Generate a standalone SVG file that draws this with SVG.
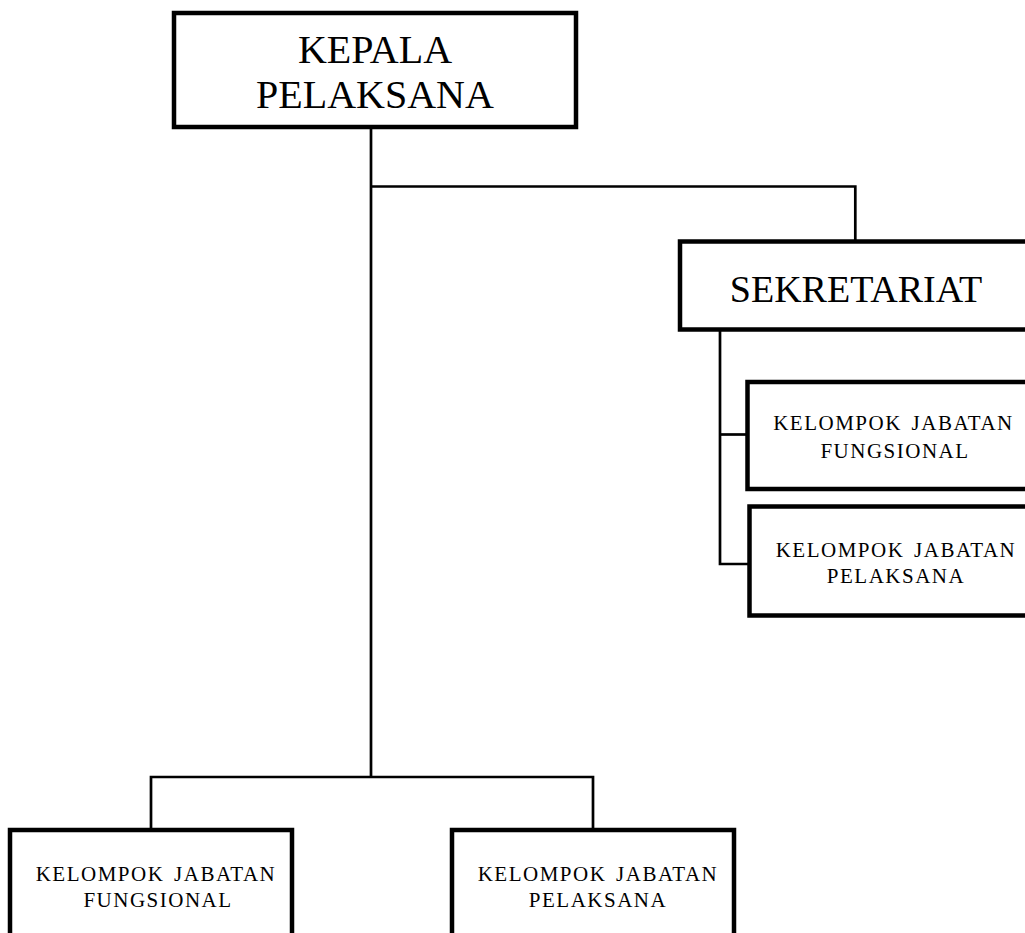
<svg xmlns="http://www.w3.org/2000/svg" width="1025" height="933" viewBox="0 0 1025 933">
<style>
.box{fill:#fff;stroke:#000;stroke-width:4.5}
.con{fill:none;stroke:#000;stroke-width:2.7}
.big{font-family:"Liberation Serif","Times New Roman",serif;fill:#000;text-anchor:middle}
.small{font-family:"Liberation Serif","Times New Roman",serif;font-size:21px;letter-spacing:1.5px;word-spacing:3px;fill:#000;text-anchor:middle}
</style>
<rect width="1025" height="933" fill="#fff"/>
<g id="connectors">
<path class="con" d="M371,127 V777"/>
<path class="con" d="M371,186.5 H855.3 V242"/>
<path class="con" d="M151,830 V777 H593 V830"/>
<path class="con" d="M720,330 V564 H749"/>
<path class="con" d="M720,434.5 H747"/>
</g>
<g id="kepala">
<rect class="box" x="174" y="13" width="402" height="114"/>
<text class="big" x="375" y="63" font-size="40">KEPALA</text>
<text class="big" x="375" y="108" font-size="40">PELAKSANA</text>
</g>
<g id="sekretariat">
<rect class="box" x="680" y="241.5" width="360" height="88"/>
<text class="big" x="856" y="302" font-size="38">SEKRETARIAT</text>
</g>
<g id="sek-fungsional">
<rect class="box" x="747.5" y="382" width="290" height="107"/>
<text class="small" x="893.5" y="430">KELOMPOK JABATAN</text>
<text class="small" x="895" y="458">FUNGSIONAL</text>
</g>
<g id="sek-pelaksana">
<rect class="box" x="749.5" y="506.5" width="290" height="109"/>
<text class="small" x="896" y="557">KELOMPOK JABATAN</text>
<text class="small" x="896" y="583">PELAKSANA</text>
</g>
<g id="fungsional">
<rect class="box" x="10" y="830" width="282" height="120"/>
<text class="small" x="156" y="881">KELOMPOK JABATAN</text>
<text class="small" x="158" y="907">FUNGSIONAL</text>
</g>
<g id="pelaksana">
<rect class="box" x="452" y="830" width="282" height="120"/>
<text class="small" x="598" y="881">KELOMPOK JABATAN</text>
<text class="small" x="598" y="907">PELAKSANA</text>
</g>
</svg>
